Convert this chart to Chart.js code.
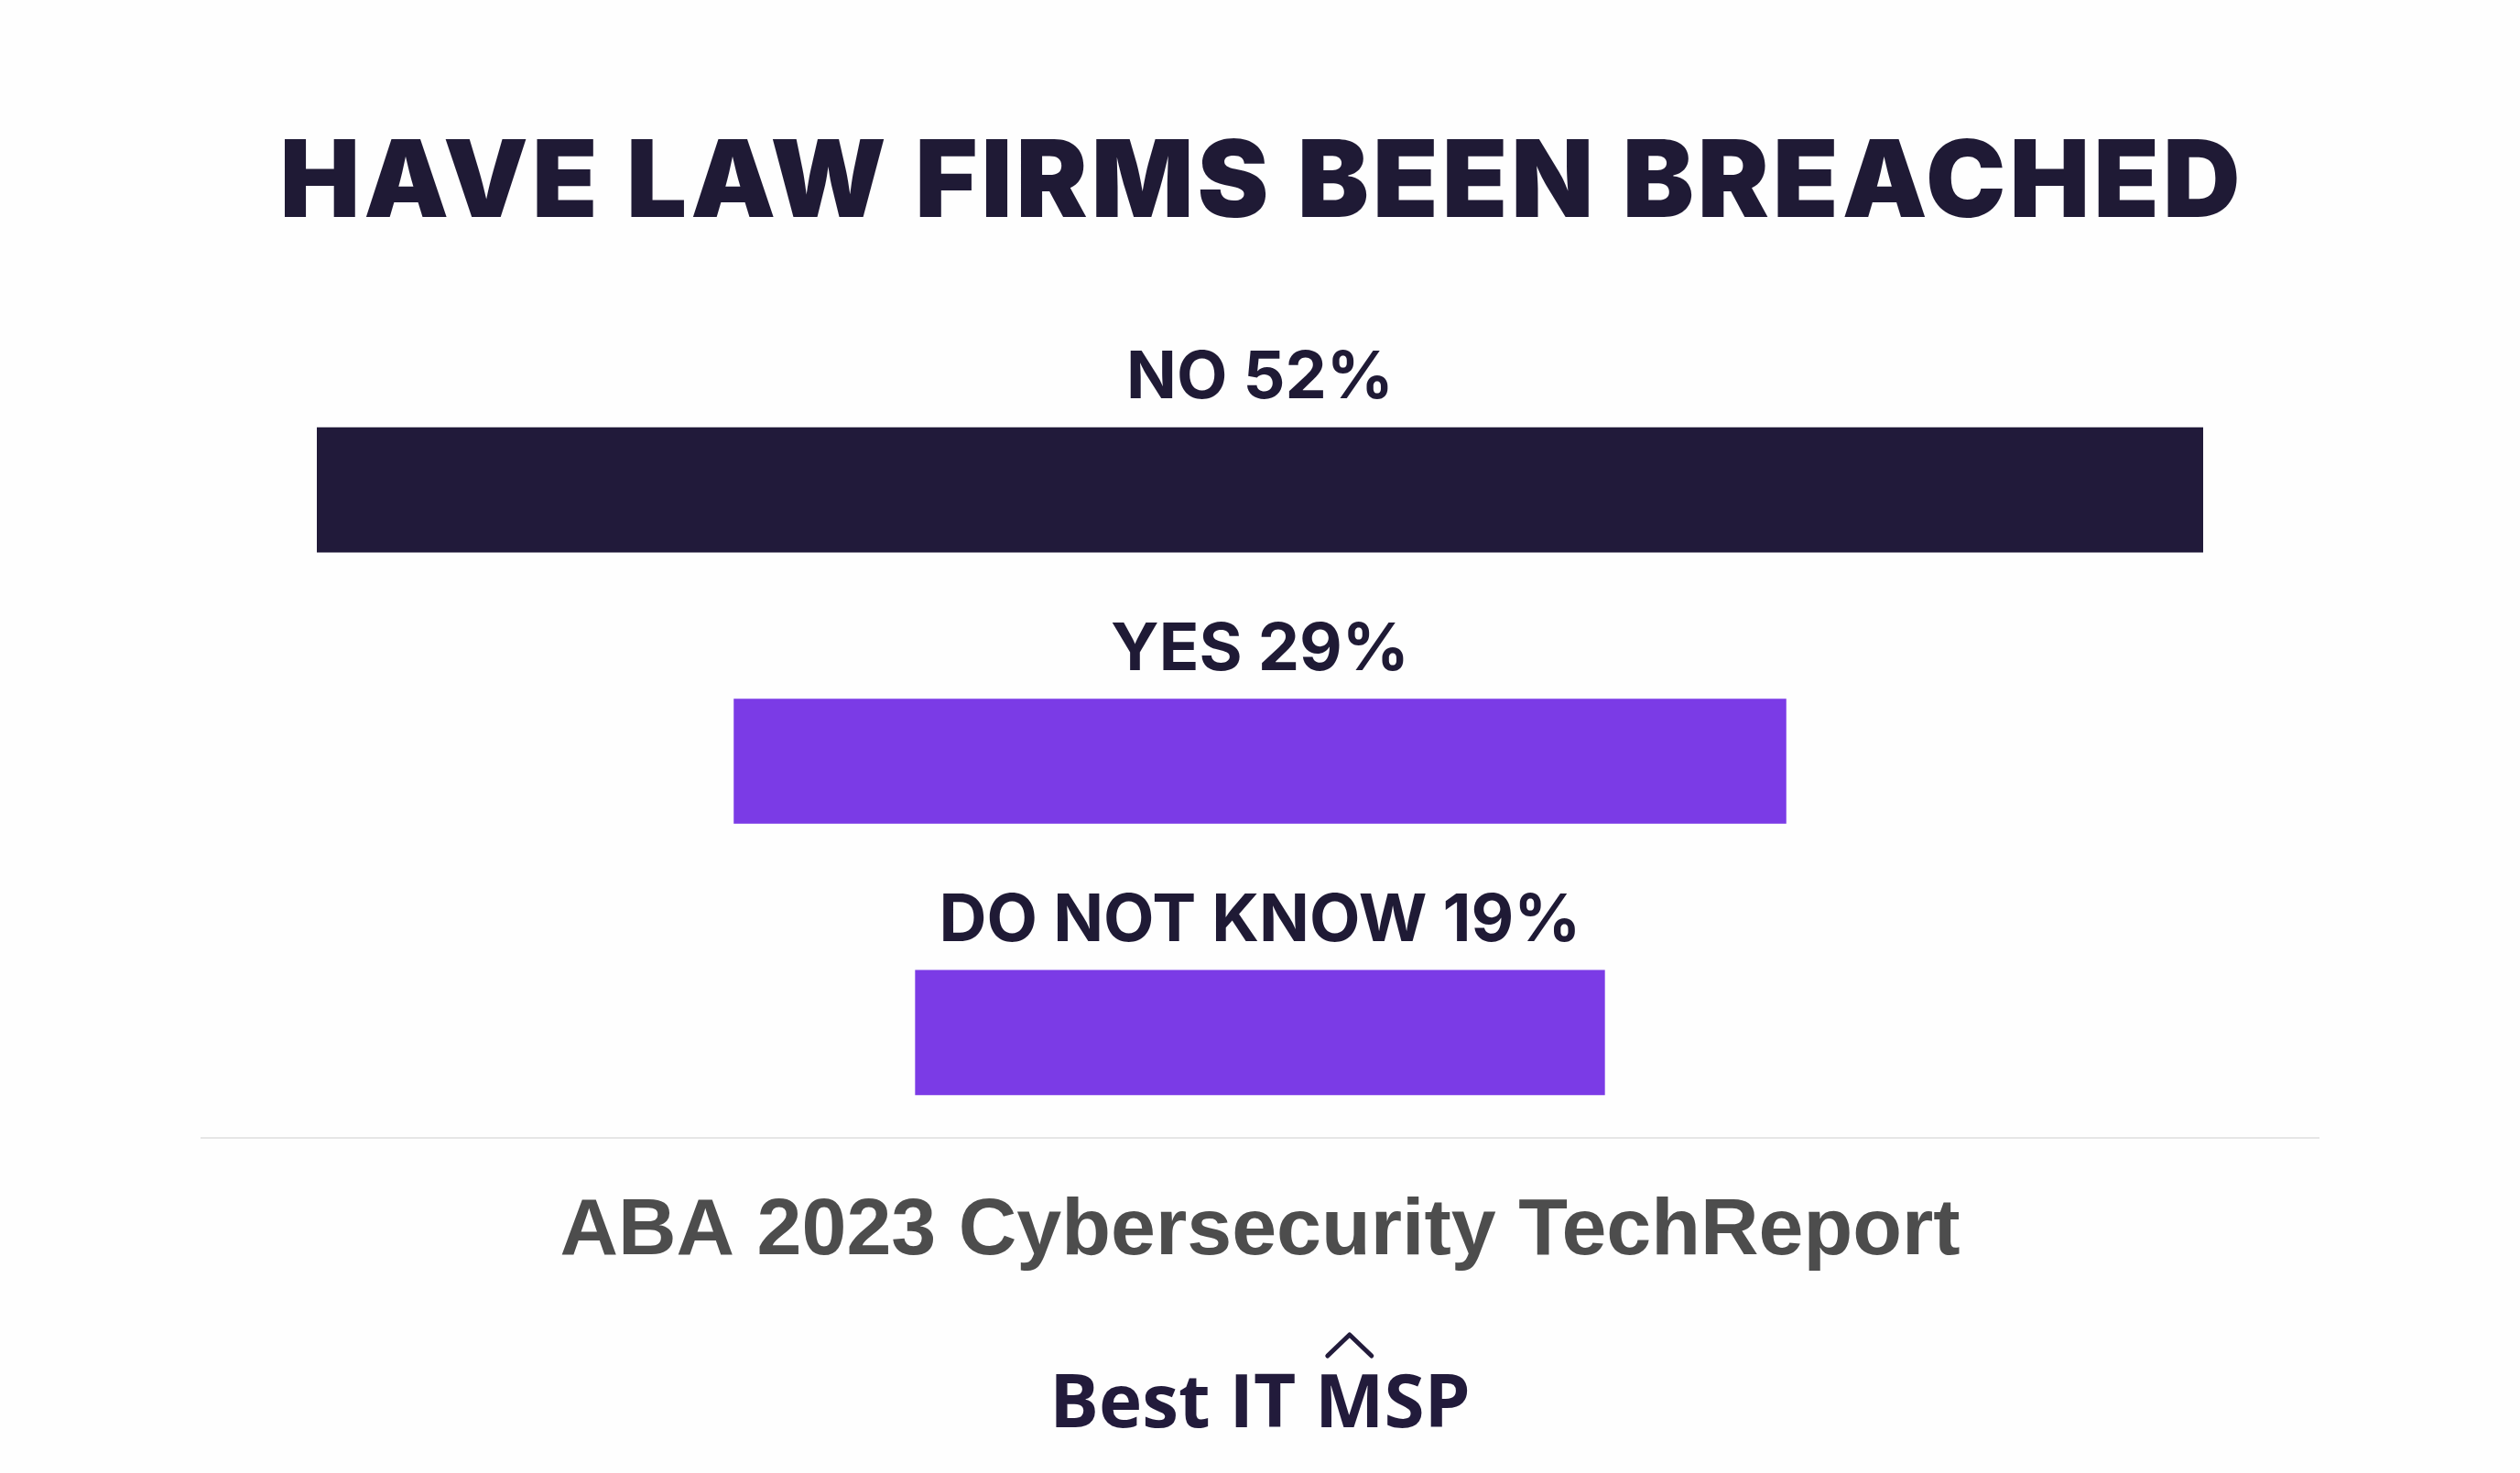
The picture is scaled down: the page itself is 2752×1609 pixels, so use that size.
<!DOCTYPE html>
<html>
<head>
<meta charset="utf-8">
<title>Have Law Firms Been Breached</title>
<script src="https://cdn.jsdelivr.net/npm/chart.js@4.4.1/dist/chart.umd.min.js"></script>
<style>
  html, body { margin: 0; padding: 0; background: #fefefe; }
  #wrap { position: relative; width: 2752px; height: 1609px; }
</style>
</head>
<body>
<div id="wrap"><canvas id="chart"></canvas></div>
<script>
// data
const categories = ['NO', 'YES', 'DO NOT KNOW'];
const shares = [52, 29, 19];
const barColors = ['#211a3a', '#7b3be6', '#7b3be6'];

const TITLE = 'HAVE LAW FIRMS BEEN BREACHED';
const SOURCE = 'ABA 2023 Cybersecurity TechReport';
const BRAND = 'Best IT MSP';

const INK = '#1f1a35';
const half = Math.max(...shares) / 2;

// title, bar labels, rule, source line and logo
const textLayer = {
  id: 'textLayer',
  beforeDraw(chart) {
    const { ctx, width, height } = chart;
    ctx.save();
    ctx.fillStyle = '#fefefe';
    ctx.fillRect(0, 0, width, height);
    ctx.restore();
  },
  afterDatasetsDraw(chart) {
    const { ctx, width } = chart;
    const cx = width / 2;
    ctx.save();
    ctx.textAlign = 'center';
    ctx.textBaseline = 'alphabetic';

    ctx.fillStyle = INK;
    ctx.font = '900 117px Inter';
    ctx.letterSpacing = '4px';
    ctx.fillText(TITLE, cx + 2, 237);
    ctx.letterSpacing = '0px';

    // labels above each bar
    ctx.font = '700 72px Inter';
    chart.getDatasetMeta(0).data.forEach((bar, i) => {
      const mid = (bar.x + bar.base) / 2;
      const top = bar.y - bar.height / 2;
      ctx.fillText(`${categories[i]} ${shares[i]}%`, mid, top - 32);
    });

    // divider
    ctx.strokeStyle = '#e6e6e6';
    ctx.lineWidth = 2;
    ctx.beginPath();
    ctx.moveTo(219, 1243);
    ctx.lineTo(2533, 1243);
    ctx.stroke();

    ctx.fillStyle = '#4d4d4d';
    ctx.font = '700 88px "Liberation Sans", Arial, sans-serif';
    ctx.fillText(SOURCE, cx, 1370);

    // logo text with caret over the M
    ctx.fillStyle = '#221b3b';
    ctx.font = '700 80px "Open Sans"';
    ctx.fillText(BRAND, cx, 1559);
    const full = ctx.measureText(BRAND).width;
    const pre = ctx.measureText('Best IT ').width;
    const mW = ctx.measureText('M').width;
    const mx = cx - full / 2 + pre + mW / 2;
    ctx.strokeStyle = '#221b3b';
    ctx.lineWidth = 5;
    ctx.lineCap = 'round';
    ctx.lineJoin = 'round';
    ctx.beginPath();
    ctx.moveTo(mx - 24, 1481);
    ctx.lineTo(mx, 1458);
    ctx.lineTo(mx + 24, 1481);
    ctx.stroke();
    ctx.restore();
  }
};

new Chart(document.getElementById('chart'), {
  type: 'bar',
  data: {
    labels: categories,
    datasets: [{
      data: shares.map(v => [-v / 2, v / 2]),
      backgroundColor: barColors,
      borderWidth: 0,
      borderSkipped: false,
      barThickness: 136
    }]
  },
  options: {
    indexAxis: 'y',
    responsive: true, maintainAspectRatio: false,
    animation: false,
    layout: { padding: { left: 346, right: 346, top: 387, bottom: 333 } },
    plugins: { legend: { display: false }, tooltip: { enabled: false }, title: { display: false } },
    scales: {
      x: { display: false, min: -half, max: half },
      y: { display: false }
    }
  },
  plugins: [textLayer]
});
</script>
</body>
</html>
